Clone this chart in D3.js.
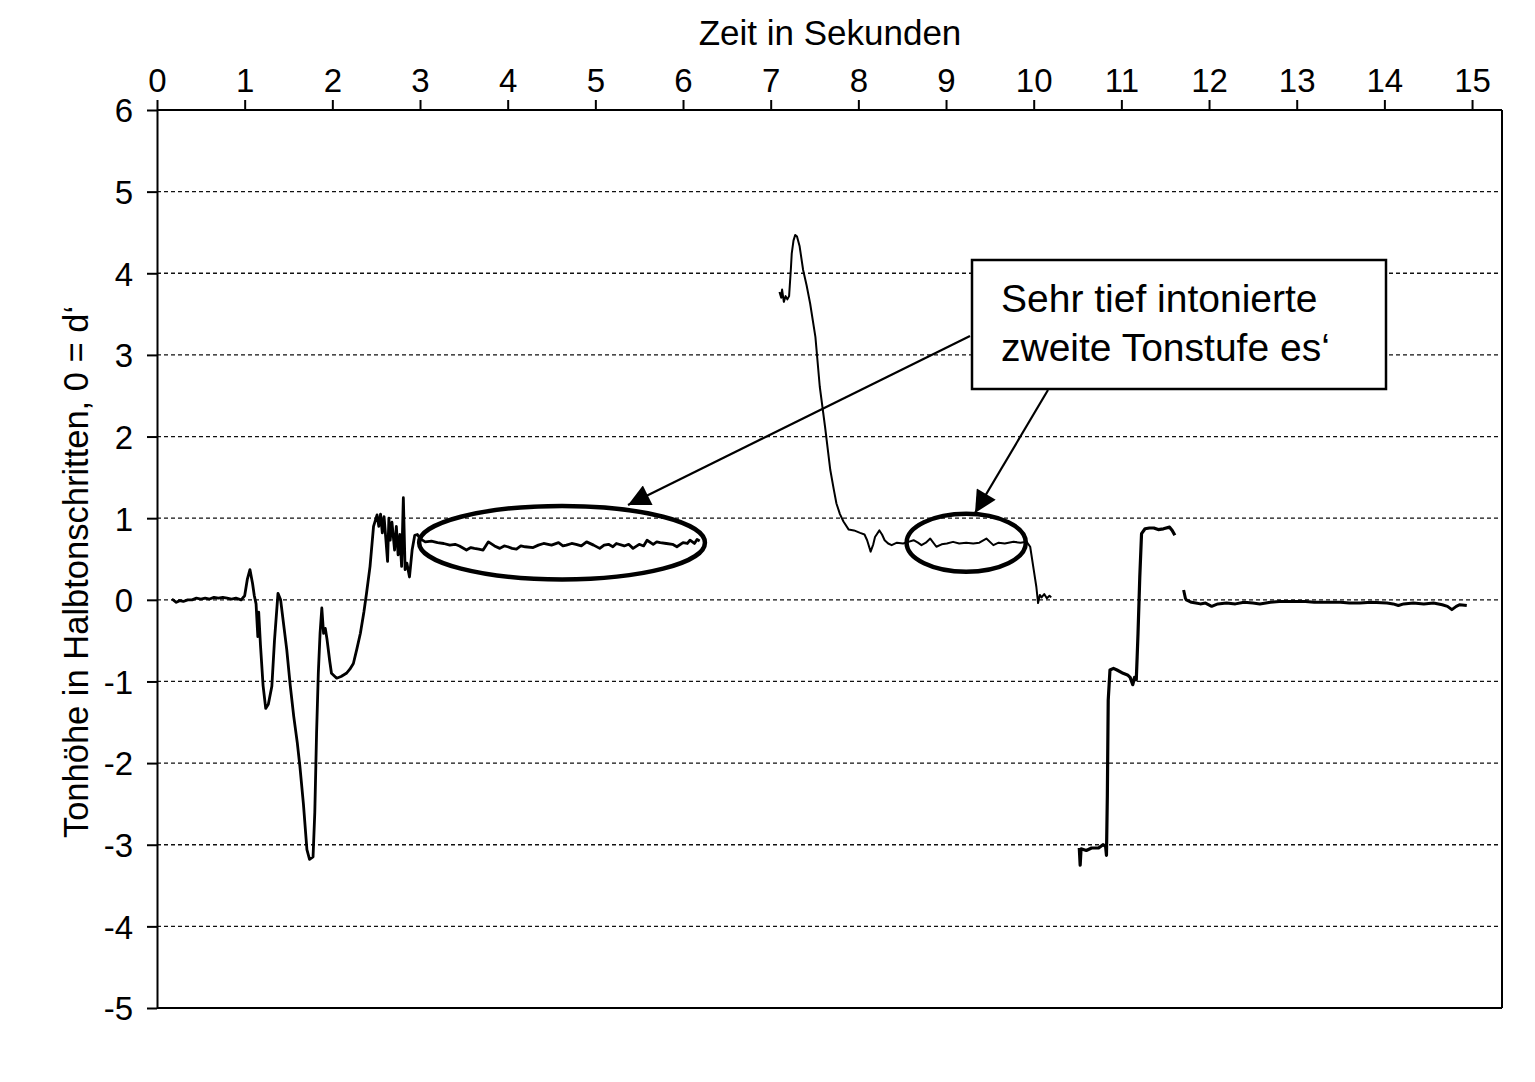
<!DOCTYPE html>
<html><head><meta charset="utf-8">
<script src="https://cdn.jsdelivr.net/npm/d3@7"></script>
<style>body{margin:0;background:#fff}svg{display:block}text{font-family:"Liberation Sans",Arial,sans-serif;fill:#000}</style>
</head><body>
<svg id="c" width="1535" height="1082"></svg>
<script>
// ---- data ----
const xTicks = [0,1,2,3,4,5,6,7,8,9,10,11,12,13,14,15];
const yTicks = [6,5,4,3,2,1,0,-1,-2,-3,-4,-5];
const seg1 = [[0.17,0.01],[0.22,-0.03],[0.26,-0.01],[0.30,-0.02],[0.35,0.00],[0.40,0.00],[0.45,0.02],[0.50,0.01],[0.55,0.02],[0.60,0.01],[0.65,0.03],[0.70,0.02],[0.75,0.03],[0.80,0.02],[0.85,0.01],[0.90,0.02],[0.96,0.00],[1.00,0.05],[1.03,0.25],[1.06,0.37],[1.09,0.20],[1.11,0.05],[1.13,-0.05],[1.15,-0.45],[1.16,-0.15],[1.18,-0.55],[1.21,-1.05],[1.24,-1.33],[1.27,-1.28],[1.31,-1.06],[1.34,-0.50],[1.38,0.08],[1.41,0.00],[1.45,-0.35],[1.48,-0.61],[1.52,-1.05],[1.56,-1.43],[1.60,-1.75],[1.63,-2.04],[1.67,-2.50],[1.71,-3.06],[1.74,-3.18],[1.78,-3.15],[1.80,-2.60],[1.82,-1.64],[1.84,-0.90],[1.86,-0.41],[1.88,-0.10],[1.90,-0.41],[1.92,-0.35],[1.94,-0.49],[1.97,-0.75],[1.99,-0.90],[2.05,-0.96],[2.10,-0.94],[2.16,-0.90],[2.20,-0.85],[2.24,-0.78],[2.28,-0.60],[2.32,-0.41],[2.36,-0.15],[2.39,0.08],[2.43,0.41],[2.47,0.90],[2.51,1.04],[2.53,0.90],[2.55,1.05],[2.57,0.82],[2.59,1.02],[2.61,0.75],[2.63,0.47],[2.645,1.00],[2.66,0.73],[2.68,0.95],[2.71,0.61],[2.73,0.90],[2.75,0.55],[2.77,0.80],[2.79,0.41],[2.81,1.25],[2.83,0.37],[2.85,0.45],[2.88,0.28],[2.91,0.61],[2.94,0.79],[2.97,0.80],[3.00,0.75],[3.06,0.71],[3.13,0.72],[3.20,0.70],[3.27,0.69],[3.34,0.67],[3.40,0.68],[3.45,0.66],[3.53,0.61],[3.58,0.64],[3.62,0.63],[3.67,0.62],[3.72,0.61],[3.78,0.71],[3.85,0.66],[3.91,0.63],[3.96,0.66],[4.00,0.65],[4.05,0.63],[4.10,0.62],[4.15,0.66],[4.20,0.65],[4.29,0.64],[4.35,0.67],[4.41,0.69],[4.50,0.67],[4.58,0.70],[4.63,0.66],[4.67,0.67],[4.73,0.69],[4.78,0.68],[4.84,0.66],[4.90,0.71],[4.98,0.67],[5.05,0.63],[5.10,0.67],[5.15,0.68],[5.20,0.65],[5.24,0.69],[5.33,0.66],[5.38,0.68],[5.43,0.63],[5.50,0.68],[5.55,0.66],[5.59,0.73],[5.66,0.68],[5.70,0.71],[5.74,0.70],[5.81,0.69],[5.88,0.68],[5.93,0.65],[6.00,0.70],[6.05,0.69],[6.08,0.73],[6.13,0.69],[6.16,0.74],[6.19,0.72]];
const seg2 = [[7.10,3.77],[7.12,3.70],[7.13,3.80],[7.15,3.65],[7.17,3.72],[7.19,3.68],[7.21,3.72],[7.23,4.05],[7.24,4.24],[7.26,4.40],[7.28,4.47],[7.30,4.45],[7.33,4.33],[7.37,4.04],[7.41,3.85],[7.45,3.63],[7.51,3.22],[7.56,2.61],[7.62,2.12],[7.68,1.59],[7.72,1.35],[7.75,1.18],[7.79,1.05],[7.83,0.96],[7.89,0.86],[7.95,0.85],[8.02,0.82],[8.07,0.80],[8.10,0.73],[8.14,0.59],[8.17,0.68],[8.19,0.77],[8.24,0.85],[8.27,0.80],[8.30,0.73],[8.34,0.69],[8.38,0.67],[8.44,0.70],[8.51,0.69],[8.57,0.71],[8.63,0.73],[8.68,0.70],[8.72,0.67],[8.77,0.70],[8.82,0.75],[8.89,0.65],[8.95,0.68],[9.01,0.69],[9.08,0.71],[9.15,0.69],[9.23,0.70],[9.31,0.69],[9.38,0.70],[9.46,0.75],[9.54,0.67],[9.60,0.70],[9.67,0.69],[9.77,0.71],[9.85,0.70],[9.92,0.71],[9.96,0.65],[10.00,0.37],[10.03,0.16],[10.05,-0.04],[10.07,0.06],[10.09,0.03],[10.12,0.07],[10.15,0.02],[10.18,0.05],[10.20,0.03]];
const seg3 = [[10.52,-3.04],[10.53,-3.25],[10.54,-3.05],[10.60,-3.07],[10.66,-3.04],[10.74,-3.04],[10.79,-3.00],[10.82,-3.02],[10.83,-3.13],[10.84,-2.40],[10.85,-1.23],[10.87,-0.86],[10.91,-0.84],[10.95,-0.86],[11.02,-0.90],[11.07,-0.92],[11.10,-0.95],[11.13,-1.04],[11.15,-0.95],[11.17,-0.98],[11.18,-0.70],[11.19,-0.41],[11.21,0.28],[11.23,0.81],[11.27,0.87],[11.32,0.88],[11.37,0.88],[11.42,0.86],[11.48,0.87],[11.55,0.89],[11.58,0.85],[11.61,0.79]];
const seg4 = [[11.71,0.12],[11.73,0.02],[11.74,0.00],[11.80,-0.03],[11.85,-0.04],[11.90,-0.05],[11.96,-0.04],[12.03,-0.08],[12.10,-0.05],[12.20,-0.04],[12.30,-0.05],[12.40,-0.03],[12.50,-0.04],[12.58,-0.05],[12.70,-0.03],[12.80,-0.02],[12.96,-0.02],[13.10,-0.02],[13.20,-0.03],[13.34,-0.03],[13.50,-0.03],[13.60,-0.04],[13.72,-0.04],[13.85,-0.03],[14.03,-0.04],[14.10,-0.05],[14.16,-0.07],[14.22,-0.05],[14.33,-0.04],[14.45,-0.05],[14.56,-0.04],[14.66,-0.06],[14.72,-0.08],[14.77,-0.12],[14.82,-0.08],[14.86,-0.06],[14.94,-0.07]];
const segments = [seg1, seg2, seg3, seg4];

// ---- layout ----
const L = 157, T = 110, R = 1502, B = 1008;
const svg = d3.select("#c");
const x = d3.scaleLinear().domain([0, 15]).range([L, L + 15 * 87.67]);
const y = d3.scaleLinear().domain([-5, 6]).range([B, T]);
const FONT = '"Liberation Sans",Arial,sans-serif';

// grid
svg.append("g").selectAll("line").data(yTicks.filter(v => v > -5 && v < 6)).join("line")
  .attr("x1", L).attr("x2", R).attr("y1", d => y(d)).attr("y2", d => y(d))
  .attr("stroke", "#111").attr("stroke-width", 1.3).attr("stroke-dasharray", "4,3");

// frame right & bottom
svg.append("line").attr("x1", R).attr("x2", R).attr("y1", T).attr("y2", B).attr("stroke", "#000").attr("stroke-width", 2);
svg.append("line").attr("x1", L).attr("x2", R).attr("y1", B).attr("y2", B).attr("stroke", "#000").attr("stroke-width", 2);

// axes
const fmt = d => String(d);
const xa = svg.append("g").attr("transform", `translate(0,${T})`)
  .call(d3.axisTop(x).tickValues(xTicks).tickFormat(fmt).tickSize(10).tickSizeOuter(0).tickPadding(8));
xa.select(".domain").attr("d", `M${L},0H${R}`);
const ya = svg.append("g").attr("transform", `translate(${L},0)`)
  .call(d3.axisLeft(y).tickValues(yTicks).tickFormat(fmt).tickSize(10).tickSizeOuter(0).tickPadding(14));
[xa, ya].forEach(g => {
  g.selectAll("path,line").attr("stroke", "#000").attr("stroke-width", 2);
  g.selectAll("text").style("font-family", FONT).style("font-size", "33px").attr("fill", "#000");
});
ya.selectAll("text").attr("dy", "0.36em");

// titles
svg.append("text").attr("x", 830).attr("y", 45).attr("text-anchor", "middle").style("font-size", "35px").text("Zeit in Sekunden");
svg.append("text").attr("transform", `translate(88,572) rotate(-90)`).attr("text-anchor", "middle").style("font-size", "34.5px").text("Tonhöhe in Halbtonschritten, 0 = d‘");

// pitch line
const line = d3.line().x(d => x(d[0])).y(d => y(d[1]));
const widths = [2.8, 2.0, 3.2, 3.0];
svg.append("g").selectAll("path").data(segments).join("path")
  .attr("d", line).attr("fill", "none").attr("stroke", "#000")
  .attr("stroke-width", (d, i) => widths[i]).attr("stroke-linejoin", "round");

// ellipses
const ell = [{cx: 4.62, cy: 0.70, rx: 1.63, ry: 0.45}, {cx: 9.23, cy: 0.70, rx: 0.68, ry: 0.355}];
svg.append("g").selectAll("ellipse").data(ell).join("ellipse")
  .attr("cx", d => x(d.cx)).attr("cy", d => y(d.cy))
  .attr("rx", d => x(d.rx) - x(0)).attr("ry", d => y(0) - y(d.ry))
  .attr("fill", "none").attr("stroke", "#000").attr("stroke-width", 4.5);

// arrows
svg.append("defs").append("marker").attr("id", "ah").attr("viewBox", "0 0 10 10")
  .attr("refX", 10).attr("refY", 5).attr("markerWidth", 28).attr("markerHeight", 22)
  .attr("markerUnits", "userSpaceOnUse").attr("orient", "auto")
  .append("path").attr("d", "M0,0L10,5L0,10Z").attr("fill", "#000");
const arrows = [[970, 336, 628, 505], [1048, 390, 975, 513]];
svg.append("g").selectAll("line").data(arrows).join("line")
  .attr("x1", d => d[0]).attr("y1", d => d[1]).attr("x2", d => d[2]).attr("y2", d => d[3])
  .attr("stroke", "#000").attr("stroke-width", 2.2).attr("marker-end", "url(#ah)");

// annotation box
svg.append("rect").attr("x", 972).attr("y", 260).attr("width", 414).attr("height", 129)
  .attr("fill", "#fff").attr("stroke", "#000").attr("stroke-width", 2.5);
svg.append("text").attr("x", 1001).attr("y", 312).style("font-size", "39px").text("Sehr tief intonierte");
svg.append("text").attr("x", 1001).attr("y", 361).style("font-size", "39px").text("zweite Tonstufe es‘");
</script>
</body></html>
